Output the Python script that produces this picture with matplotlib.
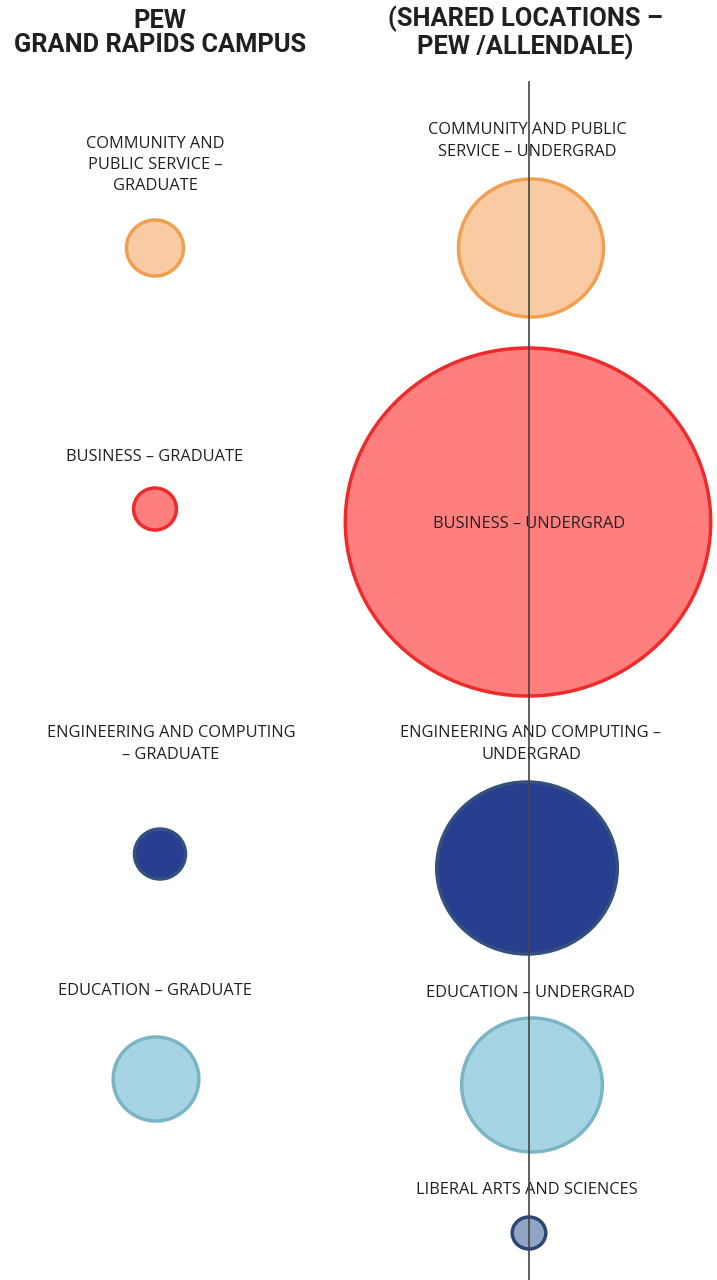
import matplotlib.pyplot as plt
from matplotlib.patches import Ellipse

# bubble data (pixel-space layout of the original infographic)
grad_labels = ["COMMUNITY AND\nPUBLIC SERVICE –\nGRADUATE", "BUSINESS – GRADUATE",
               "ENGINEERING AND COMPUTING\n– GRADUATE", "EDUCATION – GRADUATE"]
grad_radius = [28, 21, 25, 42]
grad_y = [248, 509, 854, 1079]
grad_x = [155, 155, 160, 156]
grad_label_xy = [(155, 165), (155, 457), (171, 744), (155, 991)]

ug_labels = ["COMMUNITY AND PUBLIC\nSERVICE – UNDERGRAD", "BUSINESS – UNDERGRAD",
             "ENGINEERING AND COMPUTING –\nUNDERGRAD", "EDUCATION – UNDERGRAD",
             "LIBERAL ARTS AND SCIENCES"]
ug_radius = [69, 174, 86, 67, 16]
ug_y = [248, 522, 868, 1085, 1233]
ug_x = [531, 528, 527, 532, 529]
ug_label_xy = [(527, 141), (529, 524), (531, 744), (530, 993), (527, 1190)]

fills = ["#f9cba3", "#ff7f7f", "#273f8e", "#a6d4e2", "#8fa5c3"]
edges = ["#f0a050", "#f02a2a", "#34507f", "#79b5c4", "#2d4775"]

txt = "#231f20"
plt.rcParams['font.family'] = ['Open Sans', 'DejaVu Sans']

fig = plt.figure(figsize=(7.17, 12.8), dpi=100)
ax = fig.add_axes([0, 0, 1, 1])
ax.set_xlim(0, 717)
ax.set_ylim(1280, 0)
ax.axis("off")

for i in range(len(grad_radius)):
    r = grad_radius[i]
    ax.add_patch(Ellipse((grad_x[i], grad_y[i]), 2 * r * 1.02, 2 * r,
                         facecolor=fills[i], edgecolor=edges[i], lw=2.5))
    ax.text(grad_label_xy[i][0], grad_label_xy[i][1], grad_labels[i], ha="center", va="center",
            fontsize=11.8, color=txt, linespacing=1.42)

for i in range(len(ug_radius)):
    r = ug_radius[i]
    ax.add_patch(Ellipse((ug_x[i], ug_y[i]), 2 * r * 1.05, 2 * r,
                         facecolor=fills[i], edgecolor=edges[i], lw=2.5))
    ax.text(ug_label_xy[i][0], ug_label_xy[i][1], ug_labels[i], ha="center", va="center",
            fontsize=11.8, color=txt, linespacing=1.42)

ax.plot([529, 529], [82, 1280], color="#444444", lw=1.2, zorder=10)

tfont = ['Roboto', 'DejaVu Sans']
ax.text(160, 33, "PEW\nGRAND RAPIDS CAMPUS", ha="center", va="center", fontsize=18.3,
        fontweight="bold", color=txt, family=tfont, linespacing=1.05)
ax.text(525, 33, "(SHARED LOCATIONS –\nPEW /ALLENDALE)", ha="center", va="center", fontsize=18.3,
        fontweight="bold", color=txt, family=tfont, linespacing=1.05)

fig.savefig("out.png", dpi=100)
